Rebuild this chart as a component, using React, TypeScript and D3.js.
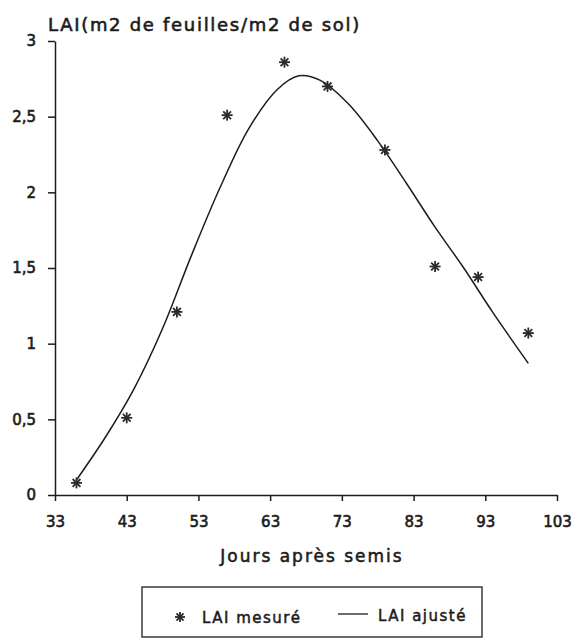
import { useRef, useEffect } from 'react';
import * as d3 from 'd3';

// mesures (jours après semis / LAI)
const measuredDays = [36, 43, 50, 57, 65, 71, 79, 86, 92, 99];
const measuredLAI = [0.08, 0.51, 1.21, 2.51, 2.86, 2.70, 2.28, 1.51, 1.44, 1.07];

// courbe ajustée
const fittedDays = [36, 40, 44, 48, 52, 56, 60, 64, 67, 70, 74, 78, 82, 86, 90, 94, 99];
const fittedLAI = [0.1, 0.38, 0.7, 1.1, 1.58, 2.03, 2.42, 2.68, 2.77, 2.74, 2.58, 2.34, 2.06, 1.77, 1.5, 1.21, 0.87];

const xTicks = [33, 43, 53, 63, 73, 83, 93, 103];
const yTicks = [0, 0.5, 1, 1.5, 2, 2.5, 3];

const title = 'LAI(m2 de feuilles/m2 de sol)';
const xTitle = 'Jours après semis';
const legendLabels = ['LAI mesuré', 'LAI ajusté'];

const FONT = '"DejaVu Sans", sans-serif';
const INK = '#1c1c1c';

const drawStar = (g: d3.Selection<SVGGElement, unknown, null, undefined>, cx: number, cy: number, r: number) => {
    const star = g.append('g').attr('transform', `translate(${cx},${cy})`);
    [0, 45, 90, 135].forEach(a => {
        const rad = (a * Math.PI) / 180;
        star.append('line')
            .attr('x1', -r * Math.cos(rad))
            .attr('y1', -r * Math.sin(rad))
            .attr('x2', r * Math.cos(rad))
            .attr('y2', r * Math.sin(rad))
            .attr('stroke', '#2a2a2a')
            .attr('stroke-width', 1.8);
    });
};

const LaiChart = () => {
    const svgRef = useRef<SVGSVGElement | null>(null);

    useEffect(() => {
        const svgElement = svgRef.current;
        if (!svgElement) return;

        const svg = d3.select(svgElement);
        svg.selectAll('*').remove();

        const x = d3.scaleLinear().domain([33, 103]).range([55, 557]);
        const y = d3.scaleLinear().domain([0, 3]).range([495, 41]);

        const fmt = (d: number) => String(d).replace('.', ',');

        // titre
        svg.append('text')
            .attr('x', 48)
            .attr('y', 31)
            .text(title)
            .style('font-family', FONT)
            .style('font-size', '18px')
            .style('letter-spacing', '1.7px')
            .attr('fill', INK)
            .attr('stroke', INK)
            .attr('stroke-width', 0.6);

        const xAxis = svg.append('g')
            .attr('transform', `translate(0, ${y(0)})`)
            .call(d3.axisBottom(x)
                .tickValues(xTicks)
                .tickSize(6)
                .tickSizeOuter(0)
                .tickPadding(15)
                .tickFormat(d => fmt(d as number)));

        const yAxis = svg.append('g')
            .attr('transform', `translate(${x(33)}, 0)`)
            .call(d3.axisLeft(y)
                .tickValues(yTicks)
                .tickSize(7)
                .tickSizeOuter(0)
                .tickPadding(12)
                .tickFormat(d => fmt(d as number)));

        [xAxis, yAxis].forEach(ax => {
            ax.selectAll('path, line')
                .attr('stroke', INK)
                .attr('stroke-width', 1.5);
            ax.selectAll('text')
                .attr('fill', INK)
                .attr('stroke', INK)
                .attr('stroke-width', 0.6)
                .style('font-family', FONT)
                .style('font-size', '15px');
        });

        svg.append('text')
            .attr('x', 312)
            .attr('y', 562)
            .attr('text-anchor', 'middle')
            .text(xTitle)
            .style('font-family', FONT)
            .style('font-size', '17px')
            .style('letter-spacing', '2px')
            .attr('fill', INK)
            .attr('stroke', INK)
            .attr('stroke-width', 0.55);

        // courbe ajustée
        const fitted = fittedDays.map((d, i) => [d, fittedLAI[i]] as [number, number]);
        const line = d3.line<[number, number]>()
            .x(d => x(d[0]))
            .y(d => y(d[1]))
            .curve(d3.curveCatmullRom);

        svg.append('path')
            .datum(fitted)
            .attr('fill', 'none')
            .attr('stroke', INK)
            .attr('stroke-width', 1.5)
            .attr('d', line);

        // points mesurés
        const pts = svg.append('g');
        measuredDays.forEach((d, i) => drawStar(pts, x(d), y(measuredLAI[i]), 5.5));

        // légende
        const leg = svg.append('g');
        leg.append('rect')
            .attr('x', 142)
            .attr('y', 587)
            .attr('width', 340)
            .attr('height', 50)
            .attr('fill', 'none')
            .attr('stroke', INK)
            .attr('stroke-width', 1.3);

        drawStar(leg, 180, 617, 5);

        leg.append('text')
            .attr('x', 202)
            .attr('y', 623)
            .text(legendLabels[0])
            .style('font-family', FONT)
            .style('font-size', '15px')
            .style('letter-spacing', '1.5px')
            .attr('fill', INK)
            .attr('stroke', INK)
            .attr('stroke-width', 0.5);

        leg.append('line')
            .attr('x1', 338)
            .attr('x2', 368)
            .attr('y1', 614)
            .attr('y2', 614)
            .attr('stroke', INK)
            .attr('stroke-width', 1.3);

        leg.append('text')
            .attr('x', 378)
            .attr('y', 621)
            .text(legendLabels[1])
            .style('font-family', FONT)
            .style('font-size', '15px')
            .style('letter-spacing', '1.5px')
            .attr('fill', INK)
            .attr('stroke', INK)
            .attr('stroke-width', 0.5);
    }, []);

    return (
        <svg
            ref={svgRef}
            width={577}
            height={642}
            style={{ position: 'absolute', left: 0, top: 0, background: '#fff' }}
        ></svg>
    );
};

export default function App() {
    return <LaiChart />;
}
